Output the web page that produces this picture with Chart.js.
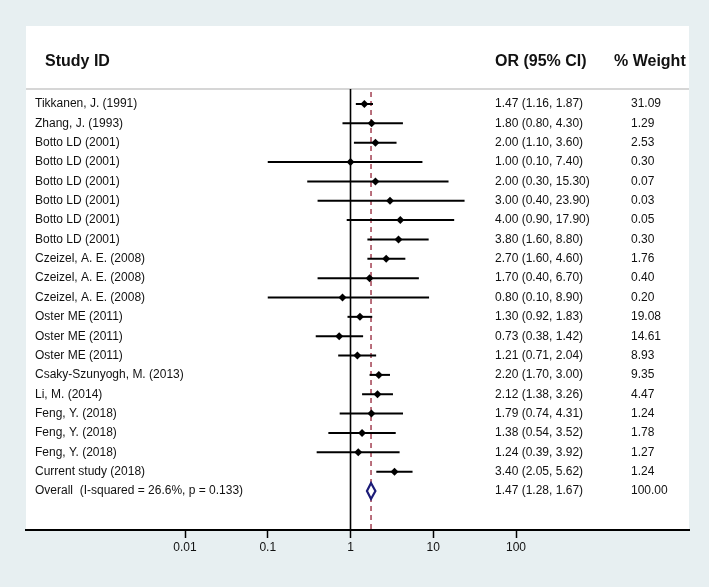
<!DOCTYPE html>
<html>
<head>
<meta charset="utf-8">
<script src="https://cdn.jsdelivr.net/npm/chart.js@4.4.1/dist/chart.umd.min.js"></script>
<style>
  html, body { margin: 0; padding: 0; background: #e7eff1; }
  #wrap { position: relative; width: 709px; height: 587px; }
</style>
</head>
<body>
<div id="wrap"><canvas id="c"></canvas></div>
<script>
// ---- data ----
const studies = [
  "Tikkanen, J. (1991)", "Zhang, J. (1993)", "Botto LD (2001)", "Botto LD (2001)",
  "Botto LD (2001)", "Botto LD (2001)", "Botto LD (2001)", "Botto LD (2001)",
  "Czeizel, A. E. (2008)", "Czeizel, A. E. (2008)", "Czeizel, A. E. (2008)",
  "Oster ME (2011)", "Oster ME (2011)", "Oster ME (2011)",
  "Csaky-Szunyogh, M. (2013)", "Li, M. (2014)",
  "Feng, Y. (2018)", "Feng, Y. (2018)", "Feng, Y. (2018)", "Current study (2018)"
];
const orEst  = [1.47, 1.80, 2.00, 1.00, 2.00, 3.00, 4.00, 3.80, 2.70, 1.70, 0.80, 1.30, 0.73, 1.21, 2.20, 2.12, 1.79, 1.38, 1.24, 3.40];
const ciLow  = [1.16, 0.80, 1.10, 0.10, 0.30, 0.40, 0.90, 1.60, 1.60, 0.40, 0.10, 0.92, 0.38, 0.71, 1.70, 1.38, 0.74, 0.54, 0.39, 2.05];
const ciHigh = [1.87, 4.30, 3.60, 7.40, 15.30, 23.90, 17.90, 8.80, 4.60, 6.70, 8.90, 1.83, 1.42, 2.04, 3.00, 3.26, 4.31, 3.52, 3.92, 5.62];
const weights = [31.09, 1.29, 2.53, 0.30, 0.07, 0.03, 0.05, 0.30, 1.76, 0.40, 0.20, 19.08, 14.61, 8.93, 9.35, 4.47, 1.24, 1.78, 1.27, 1.24];

const overallLabel = "Overall  (I-squared = 26.6%, p = 0.133)";
const overallText = [1.47, 1.28, 1.67];   // printed estimate (OR, low, high)
const overallWeight = 100.00;
const overallPlot = [1.77, 1.58, 2.00];   // where the diamond / dashed line sit in the picture

const headers = ["Study ID", "OR (95% CI)", "% Weight"];
const tickValues = [0.01, 0.1, 1, 10, 100];
const tickLabels = ["0.01", "0.1", "1", "10", "100"];

// ---- helpers ----
const fmt = v => v.toFixed(2);
const orStrings = orEst.map((v, i) => `${fmt(v)} (${fmt(ciLow[i])}, ${fmt(ciHigh[i])})`);
const overallRow = studies.length;
const FONT = '"Liberation Sans", Arial, Helvetica, sans-serif';

const ciDatasets = studies.map((s, i) => ({
  label: s,
  data: [{x: ciLow[i], y: i}, {x: ciHigh[i], y: i}],
  showLine: true,
  borderColor: '#000',
  borderWidth: 2,
  pointRadius: 0,
  order: 2
}));
const pointDataset = {
  label: 'OR',
  data: orEst.map((v, i) => ({x: v, y: i})),
  pointStyle: 'rectRot',
  pointRadius: 4,
  backgroundColor: '#000',
  borderColor: '#000',
  borderWidth: 0,
  showLine: false,
  order: 1
};

const forestPlugin = {
  id: 'forest',
  beforeDraw(chart) {
    const {ctx, chartArea: a} = chart;
    ctx.save();
    // white panel
    ctx.fillStyle = '#ffffff';
    ctx.fillRect(a.left, a.top - 63, a.right - a.left, a.bottom - (a.top - 63));
    // header separator
    ctx.strokeStyle = '#c9c9c9';
    ctx.lineWidth = 1.5;
    ctx.beginPath();
    ctx.moveTo(a.left, a.top);
    ctx.lineTo(a.right, a.top);
    ctx.stroke();
    ctx.restore();
  },
  beforeDatasetsDraw(chart) {
    const {ctx, chartArea: a, scales: {x}} = chart;
    ctx.save();
    // null line at OR = 1
    const x1 = x.getPixelForValue(1);
    ctx.strokeStyle = '#000';
    ctx.lineWidth = 1.6;
    ctx.beginPath();
    ctx.moveTo(x1, a.top);
    ctx.lineTo(x1, a.bottom);
    ctx.stroke();
    // dashed overall line
    const xo = x.getPixelForValue(overallPlot[0]);
    ctx.strokeStyle = '#9c3345';
    ctx.lineWidth = 1.4;
    ctx.setLineDash([5, 4]);
    ctx.beginPath();
    ctx.moveTo(xo, a.top + 3);
    ctx.lineTo(xo, a.bottom);
    ctx.stroke();
    ctx.restore();
  },
  afterDatasetsDraw(chart) {
    const {ctx, scales: {x, y}} = chart;
    ctx.save();
    const yc = y.getPixelForValue(overallRow);
    const xl = x.getPixelForValue(overallPlot[1]);
    const xc = x.getPixelForValue(overallPlot[0]);
    const xr = x.getPixelForValue(overallPlot[2]);
    ctx.beginPath();
    ctx.moveTo(xl, yc);
    ctx.lineTo(xc, yc - 8);
    ctx.lineTo(xr, yc);
    ctx.lineTo(xc, yc + 8);
    ctx.closePath();
    ctx.fillStyle = '#fff';
    ctx.fill();
    ctx.strokeStyle = '#1c1c78';
    ctx.lineWidth = 2.2;
    ctx.stroke();
    ctx.restore();
  },
  afterDraw(chart) {
    const {ctx, chartArea: a, scales: {y}} = chart;
    const labelX = a.left + 9;
    const orX = a.left + 469;
    const wX = a.left + 605;
    ctx.save();
    ctx.fillStyle = '#111';
    ctx.textBaseline = 'middle';
    ctx.textAlign = 'left';
    // headers
    ctx.font = `bold 16px ${FONT}`;
    const hy = a.top - 27;
    ctx.fillText(headers[0], a.left + 19, hy);
    ctx.fillText(headers[1], orX, hy);
    ctx.fillText(headers[2], wX - 17, hy);
    // rows
    ctx.font = `12px ${FONT}`;
    studies.forEach((s, i) => {
      const yy = y.getPixelForValue(i);
      ctx.fillText(s, labelX, yy);
      ctx.fillText(orStrings[i], orX, yy);
      ctx.fillText(fmt(weights[i]), wX, yy);
    });
    const yo = y.getPixelForValue(overallRow);
    ctx.fillText(overallLabel, labelX, yo);
    ctx.fillText(`${fmt(overallText[0])} (${fmt(overallText[1])}, ${fmt(overallText[2])})`, orX, yo);
    ctx.fillText(fmt(overallWeight), wX, yo);
    ctx.restore();
  }
};

new Chart(document.getElementById('c'), {
  type: 'scatter',
  data: { datasets: [...ciDatasets, pointDataset] },
  options: {
    responsive: true,
    maintainAspectRatio: false,
    animation: false,
    events: [],
    layout: { padding: { left: 26, right: 20, top: 89, bottom: 0 } },
    plugins: { legend: { display: false }, tooltip: { enabled: false } },
    scales: {
      x: {
        type: 'logarithmic',
        min: Math.pow(10, -3.9215),
        max: Math.pow(10, 4.0906),
        bounds: 'data',
        afterBuildTicks: s => { s.ticks = tickValues.map(v => ({value: v})); },
        afterFit: s => { s.height = 57; },
        ticks: {
          autoSkip: false,
          maxRotation: 0,
          padding: 2,
          color: '#111',
          font: { family: FONT, size: 12 },
          callback: (v) => { const k = tickValues.indexOf(v); return k >= 0 ? tickLabels[k] : ''; }
        },
        grid: { display: true, drawOnChartArea: false, drawTicks: true, tickLength: 8, color: '#000', tickWidth: 1.5 },
        border: { display: true, color: '#000', width: 2 }
      },
      y: {
        type: 'linear',
        reverse: true,
        min: -0.775,
        max: 22.016,
        display: false
      }
    }
  },
  plugins: [forestPlugin]
});
</script>
</body>
</html>
